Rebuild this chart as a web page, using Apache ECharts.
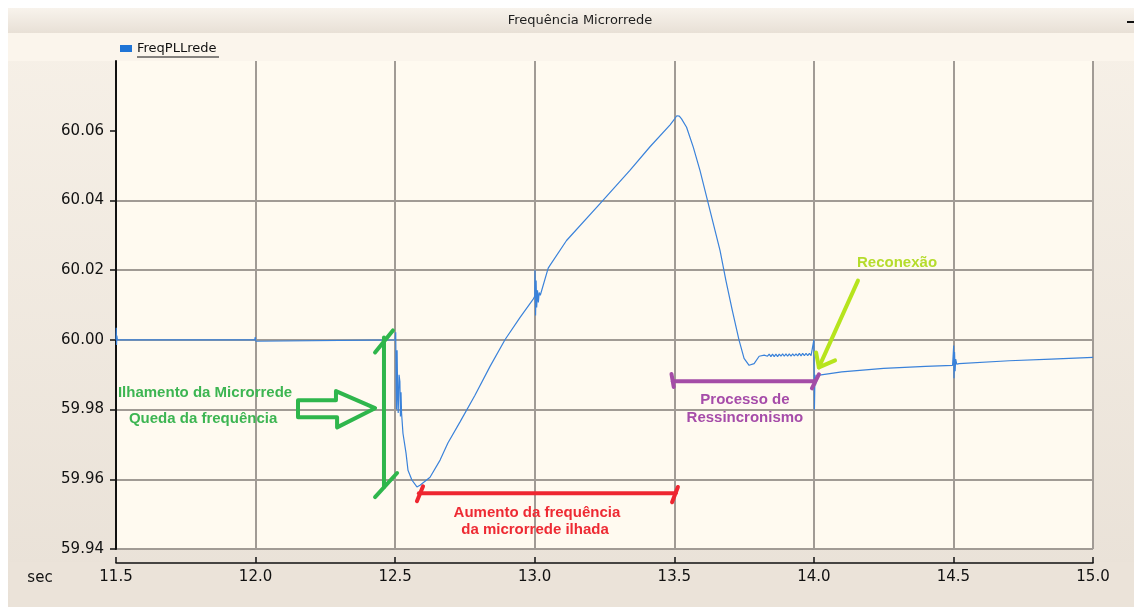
<!DOCTYPE html>
<html>
<head>
<meta charset="utf-8">
<title>Frequência Microrrede</title>
<script src="https://cdn.jsdelivr.net/npm/echarts@6/dist/echarts.min.js"></script>
<style>
  html, body { margin: 0; padding: 0; background: #ffffff; }
  #chart { width: 1134px; height: 607px; }
</style>
</head>
<body>
<div id="chart"></div>
<script>
// PLL frequency of the microgrid, seconds vs Hz
const timeSec = [
  11.500, 11.501, 11.502, 11.503, 11.505, 11.997, 11.999, 12.001, 12.003,
  12.500, 12.502, 12.504, 12.505, 12.507, 12.509, 12.511, 12.514, 12.517, 12.519, 12.521, 12.523,
  12.528, 12.539, 12.546, 12.560, 12.578, 12.589, 12.625, 12.661, 12.689, 12.732, 12.786, 12.840,
  12.894, 12.947, 12.994,
  13.000, 13.001, 13.003, 13.005, 13.007, 13.010, 13.013, 13.016, 13.020, 13.048, 13.054, 13.114,
  13.234, 13.341, 13.413, 13.485, 13.502, 13.509, 13.513, 13.518, 13.526, 13.544, 13.568, 13.592,
  13.664, 13.685, 13.708, 13.732, 13.750, 13.768, 13.786, 13.804, 13.822,
  13.828, 13.834, 13.840, 13.846, 13.852, 13.858, 13.864, 13.870, 13.876, 13.882, 13.888, 13.894,
  13.900, 13.906, 13.912, 13.918, 13.924, 13.930, 13.936, 13.942, 13.948, 13.954, 13.960, 13.966,
  13.972, 13.978, 13.984, 13.990, 13.996,
  14.000, 14.002, 14.004, 14.006, 14.010, 14.020, 14.100, 14.250, 14.400, 14.497,
  14.500, 14.501, 14.502, 14.504, 14.506, 14.508, 14.512, 14.520, 14.700, 14.850, 15.000
];
const freqHz = [
  60.0000, 60.0035, 59.9985, 60.0012, 60.0000, 60.0000, 60.0008, 59.9996, 60.0000,
  60.0000, 60.0022, 59.9850, 59.9800, 59.9970, 59.9850, 59.9790, 59.9900, 59.9880, 59.9780, 59.9850, 59.9790,
  59.9732, 59.9675, 59.9626, 59.9598, 59.9578, 59.9583, 59.9606, 59.9655, 59.9704, 59.9764, 59.9841, 59.9924,
  60.0001, 60.0064, 60.0116,
  60.0125, 60.0200, 60.0070, 60.0170, 60.0093, 60.0142, 60.0107, 60.0136, 60.0128, 60.0205, 60.0213, 60.0285,
  60.0391, 60.0486, 60.0554, 60.0617, 60.0635, 60.0643, 60.0638, 60.0642, 60.0634, 60.0610, 60.0553, 60.0486,
  60.0256, 60.0170, 60.0084, 59.9999, 59.9947, 59.9927, 59.9932, 59.9953, 59.9956,
  59.9960, 59.9953, 59.9959, 59.9952, 59.9959, 59.9952, 59.9959, 59.9952, 59.9959, 59.9953, 59.9960, 59.9953,
  59.9960, 59.9953, 59.9960, 59.9953, 59.9960, 59.9954, 59.9960, 59.9954, 59.9961, 59.9954, 59.9961, 59.9955,
  59.9961, 59.9955, 59.9961, 59.9955, 59.9960,
  60.0000, 59.9800, 59.9900, 59.9870, 59.9898, 59.9899, 59.9908, 59.9918, 59.9924, 59.9927,
  59.9927, 59.9984, 59.9890, 59.9965, 59.9910, 59.9945, 59.9930, 59.9932, 59.9940, 59.9945, 59.9950
];

// axis ticks
const yTickValues = [59.94, 59.96, 59.98, 60.00, 60.02, 60.04, 60.06];
const xTickValues = [11.5, 12.0, 12.5, 13.0, 13.5, 14.0, 14.5, 15.0];

// annotation geometry, in (seconds, Hz)
const islandBracket = [
  [[12.460, 60.0007], [12.460, 59.9578]],
  [[12.428, 59.9964], [12.492, 60.0027]],
  [[12.428, 59.9549], [12.507, 59.9618]]
];
const islandArrow = [
  [12.152, 59.9827], [12.288, 59.9827], [12.288, 59.9853], [12.428, 59.9804],
  [12.292, 59.9749], [12.292, 59.9778], [12.152, 59.9778]
];
const riseBracket = [
  [[12.585, 59.9560], [13.505, 59.9560]],
  [[12.578, 59.9537], [12.600, 59.9580]],
  [[13.492, 59.9534], [13.513, 59.9578]]
];
const resyncBracket = [
  [[13.495, 59.9881], [14.004, 59.9881]],
  [[13.490, 59.9902], [13.498, 59.9865]],
  [[13.993, 59.9861], [14.018, 59.9901]]
];
const reconnectArrow = [
  [[14.158, 60.0170], [14.018, 59.9921]],
  [[14.008, 59.9964], [14.018, 59.9921], [14.076, 59.9941]]
];
const noteTexts = [
  ['Ilhamento da Microrrede', 11.819, 59.9847, '#3db552'],
  ['Queda da frequência', 11.812, 59.9772, '#3db552'],
  ['Aumento da frequência', 13.008, 59.9503, '#ee2a33'],
  ['da microrrede ilhada', 13.001, 59.9454, '#ee2a33'],
  ['Processo de', 13.753, 59.9827, '#a64ca9'],
  ['Ressincronismo', 13.753, 59.9775, '#a64ca9'],
  ['Reconexão', 14.298, 60.0222, '#b5dc2c']
];

const GREEN = '#2fb64c', RED = '#ee2630', PURPLE = '#a44ca7', LIME = '#b6e41d';
const AXIS_FONT = '"DejaVu Sans", Verdana, sans-serif';
const NOTE_FONT = 'bold 15px "Liberation Sans", Arial, sans-serif';

function renderNotes(params, api) {
  const P = p => api.coord(p);
  const children = [];
  const strokes = (lines, color) => lines.forEach(pts => children.push({
    type: 'polyline',
    shape: { points: pts.map(P) },
    style: { stroke: color, lineWidth: 4, fill: null, lineCap: 'round', lineJoin: 'round' }
  }));
  strokes(islandBracket, GREEN);
  children.push({
    type: 'polygon',
    shape: { points: islandArrow.map(P) },
    style: { stroke: GREEN, lineWidth: 4, fill: 'none', lineJoin: 'round' }
  });
  strokes(riseBracket, RED);
  strokes(resyncBracket, PURPLE);
  strokes(reconnectArrow, LIME);
  noteTexts.forEach(([text, t, v, color]) => {
    const c = P([t, v]);
    children.push({
      type: 'text', x: c[0], y: c[1],
      style: { text, fill: color, font: NOTE_FONT, align: 'center', verticalAlign: 'middle' }
    });
  });
  return { type: 'group', children };
}

const chart = echarts.init(document.getElementById('chart'), null, { renderer: 'canvas' });

chart.setOption({
  animation: false,
  backgroundColor: '#ffffff',
  graphic: [
    { type: 'rect', z: -10, silent: true, shape: { x: 8, y: 8, width: 1126, height: 599 },
      style: { fill: new echarts.graphic.LinearGradient(0, 0, 0, 1, [
        { offset: 0, color: '#f7f1e8' }, { offset: 1, color: '#e9e1d7' }]) } },
    { type: 'rect', z: -9, silent: true, shape: { x: 8, y: 8, width: 1126, height: 25 },
      style: { fill: new echarts.graphic.LinearGradient(0, 0, 0, 1, [
        { offset: 0, color: '#f8f3ec' }, { offset: 1, color: '#e8e0d6' }]) } },
    { type: 'rect', z: -9, silent: true, shape: { x: 8, y: 33, width: 1126, height: 28 },
      style: { fill: '#fbf5ec' } },
    { type: 'rect', z: -9, silent: true, shape: { x: 10, y: 562, width: 1124, height: 45 },
      style: { fill: '#ebe3d9' } },
    { type: 'rect', z: 5, silent: true, shape: { x: 1127, y: 21, width: 7, height: 2 },
      style: { fill: '#111111' } },
    { type: 'text', silent: true, x: 580, y: 21,
      style: { text: 'Frequência Microrrede', fill: '#1e1e1e', font: '13px ' + AXIS_FONT,
               align: 'center', verticalAlign: 'middle' } },
    { type: 'line', silent: true, shape: { x1: 137, y1: 57, x2: 219, y2: 57 },
      style: { stroke: '#111111', lineWidth: 1.2 } },
    { type: 'text', silent: true, x: 40, y: 578,
      style: { text: 'sec', fill: '#111111', font: '15px ' + AXIS_FONT,
               align: 'center', verticalAlign: 'middle' } }
  ],
  legend: {
    left: 120, top: 42, padding: 0,
    icon: 'rect', itemWidth: 12, itemHeight: 7,
    data: [{ name: 'FreqPLLrede', itemStyle: { color: '#1f74d6' } }],
    textStyle: { fontFamily: AXIS_FONT, fontSize: 13, color: '#111111' },
    selectedMode: false
  },
  grid: {
    left: 116, top: 61, right: 41, bottom: 58,
    show: true, backgroundColor: '#fffaf0', borderWidth: 0
  },
  xAxis: {
    type: 'value', min: 11.5, max: 15.0, interval: 0.5, offset: 14,
    axisLine: { show: true, lineStyle: { color: '#111111', width: 1.5 } },
    axisTick: { show: true, inside: true, length: 6, lineStyle: { color: '#111111', width: 1.5 } },
    axisLabel: {
      color: '#111111', fontFamily: AXIS_FONT, fontSize: 15, margin: 7,
      customValues: xTickValues,
      formatter: v => v.toFixed(1)
    },
    splitLine: { show: true, showMinLine: false, lineStyle: { color: '#a19b95', width: 2 } }
  },
  yAxis: {
    type: 'value', min: 59.94, max: 60.08, interval: 0.02,
    axisLine: { show: true, lineStyle: { color: '#111111', width: 2 } },
    axisTick: { show: true, length: 6, customValues: yTickValues,
                lineStyle: { color: '#111111', width: 1.5 } },
    axisLabel: {
      color: '#111111', fontFamily: AXIS_FONT, fontSize: 15, margin: 12,
      customValues: yTickValues,
      formatter: v => v.toFixed(2)
    },
    splitLine: { show: true, showMaxLine: false, lineStyle: { color: '#a19b95', width: 2 } }
  },
  series: [
    {
      name: 'FreqPLLrede',
      type: 'line',
      data: timeSec.map((t, i) => [t, freqHz[i]]),
      showSymbol: false,
      symbol: 'none',
      sampling: null,
      lineStyle: { color: '#3a82da', width: 1.2 },
      itemStyle: { color: '#1f74d6' },
      z: 3
    },
    {
      name: 'notas',
      type: 'custom',
      renderItem: renderNotes,
      data: [[13, 60]],
      silent: true,
      clip: false,
      z: 4
    }
  ]
});
</script>
</body>
</html>
